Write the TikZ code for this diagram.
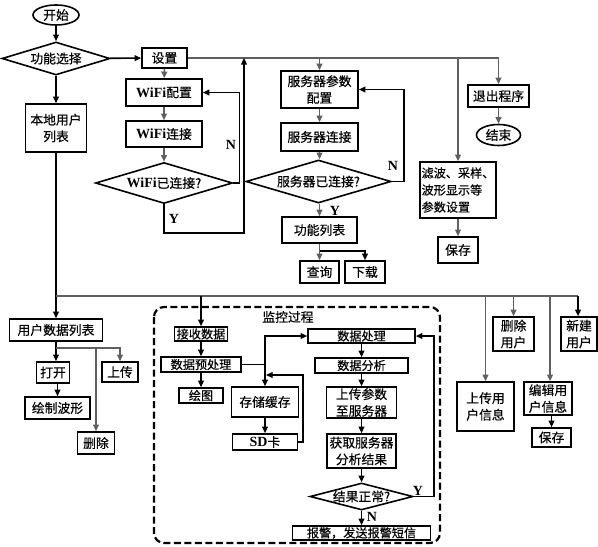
\documentclass[tikz,border=0pt]{standalone}
\usepackage{fontspec}
\setmainfont{Noto Sans CJK SC}[FakeBold=0.4]
\newfontfamily\lat{Liberation Serif}
\usetikzlibrary{shapes.geometric,arrows.meta}
\newlength\px \setlength\px{0.75pt}
\definecolor{lg}{RGB}{95,95,95}
\tikzset{
 txt/.style={inner sep=0pt, align=center, font=\fontsize{9.6}{12.5}\selectfont},
 bx/.style={txt, draw, line width=1.6\px},
 dia/.style={draw, diamond, line width=1.6\px, inner sep=0pt},
 el/.style={txt, draw, ellipse, line width=1.6\px},
 ar/.style={-{Triangle[length=5pt,width=4.4pt]}, line width=1.6\px},
 gar/.style={ar, draw=lg},
 gl/.style={line width=1.4\px, draw=lg},
 bl/.style={line width=1.6\px},
 lab/.style={inner sep=0pt, font=\lat\bfseries\fontsize{10.5}{11}\selectfont},
 small/.style={font=\fontsize{9.1}{12.5}\selectfont},
 monbox/.style={line width=2.2\px, dash pattern=on 7\px off 3.5\px, rounded corners=10\px},
 wz/.style 2 args={minimum width=#1\px, minimum height=#2\px}
}
\newcommand{\lw}[1]{{\lat\bfseries\fontsize{10.5}{12.5}\selectfont #1}}
\begin{document}
\begin{tikzpicture}[x=0.75pt,y=-0.75pt]
\useasboundingbox (0,0) rectangle (598,546);
% top-left
\node[el,wz={46}{20}] (start) at (56,15) {开始};
\node[dia,wz={108}{33}] (fs) at (56,58.5) {};
\node[txt] at (fs) {功能选择};
\node[bx,wz={45}{20}] (set) at (164.5,58) {设置};
\node[bx,wz={76}{27}] (wcfg) at (164,92.5) {\lw{WiFi}配置};
\node[bx,wz={76}{26}] (wcon) at (164,134) {\lw{WiFi}连接};
\node[dia,wz={137}{41}] (wd) at (164,183) {};
\node[txt] at (wd) {\lw{WiFi}已连接?};
\node[bx,wz={61}{48}] (local) at (56,128) {本地用户\\列表};
% server
\node[bx,wz={77}{37}] (srvcfg) at (319.5,89.5) {服务器参数\\配置};
\node[bx,wz={77}{28}] (srvcon) at (319.5,137) {服务器连接};
\node[dia,wz={145}{43}] (sd) at (318.5,181.5) {};
\node[txt] at (sd) {服务器已连接?};
\node[bx,wz={75}{26}] (flist) at (319.5,230) {功能列表};
\node[bx,wz={39}{22}] (query) at (319.5,272) {查询};
\node[bx,wz={40}{22}] (dl) at (365,272) {下载};
% right top
\node[bx,wz={61}{22}] (quit) at (498.5,96) {退出程序};
\node[el,wz={44}{21}] (end) at (498.5,135) {结束};
\node[bx,small,wz={76}{56},align=left,font=\fontsize{9.1}{12.8}\selectfont] (filt) at (458,190) {滤波、采样、\\波形显示等\\参数设置};
\node[bx,wz={40}{26}] (save1) at (458,250) {保存};
% bottom left
\node[bx,wz={93}{22}] (udl) at (56,330) {用户数据列表};
\node[bx,wz={33}{21}] (open) at (53,372.5) {打开};
\node[bx,wz={65}{22}] (drw) at (57.5,408) {绘制波形};
\node[bx,wz={36}{20}] (up) at (120,372) {上传};
\node[bx,wz={37}{22}] (del) at (96,443) {删除};
% monitoring
\draw[monbox] (154,307) rectangle (440,543);
\node[txt] (montitle) at (288,317) {监控过程};
\node[bx,small,wz={53}{14}] (recv) at (201,334) {接收数据};
\node[bx,small,wz={80}{15}] (pre) at (201,364.5) {数据预处理};
\node[bx,small,wz={44}{15}] (pic) at (201,395.5) {绘图};
\node[bx,wz={67}{30}] (store) at (265,402) {存储缓存};
\node[bx,wz={65}{16}] (sdc) at (265,442) {\lw{SD}卡};
\node[bx,small,wz={107}{14}] (dp) at (361.5,336) {数据处理};
\node[bx,small,wz={93}{15}] (da) at (361.5,365.5) {数据分析};
\node[bx,wz={70}{31}] (up2) at (361.5,402.5) {上传参数\\至服务器};
\node[bx,wz={69}{34}] (get) at (361.5,451) {获取服务器\\分析结果};
\node[dia,wz={103}{27}] (rd) at (361.5,496.5) {};
\node[txt] at (rd) {结果正常?};
\node[bx,small,wz={138}{14}] (alarm) at (361.5,533) {报警，发送报警短信};
% bottom right
\node[bx,wz={41}{34}] (delu) at (513.5,334) {删除\\用户};
\node[bx,wz={36}{34}] (newu) at (579,334) {新建\\用户};
\node[bx,wz={57}{49}] (upu) at (485.5,406.5) {上传用\\户信息};
\node[bx,wz={48}{33}] (editu) at (548,398.5) {编辑用\\户信息};
\node[bx,wz={39}{19}] (save2) at (551.5,437.5) {保存};

% connectors top
\draw[ar] (start) -- (fs);
\draw[ar] (fs) -- (set);
\draw[ar] (fs) -- (local);
\coordinate (tr) at (498.5,58);
\draw[gl] (set.east) -- (tr);
\draw[gar] (tr) -- (quit);
\draw[gar] (srvcfg.north |- set.east) -- (srvcfg);
\draw[gar] (filt.north |- set.east) -- (filt);
\draw[gar] (set) -- (wcfg);
\draw[gar] (wcfg) -- (wcon);
\draw[gar] (wcon) -- (wd);
\draw[ar] (wd.east) -- ++(6,0) |- (wcfg.east);
\node[lab] (n1) at (231,145) {N};
\coordinate (wyc) at (244,233);
\coordinate (yend) at (244,58);
\draw[ar] (wd.south) |- (wyc) -- (yend);
\node[lab] (y1) at (174,219) {Y};
\draw[gar] (srvcfg) -- (srvcon);
\draw[gar] (srvcon) -- (sd.north -| srvcon.south);
\draw[ar] (sd.east) -- ++(12,0) |- (srvcfg.east);
\node[lab] (n2) at (393,166) {N};
\draw[gar] (sd.south -| flist.north) -- (flist);
\node[lab] (y2) at (335,211) {Y};
\draw[gar] (flist) -- (query);
\coordinate (fb) at (319.5,251);
\draw[ar] (fb) -| (dl);
\draw[gar] (quit) -- (end);
\draw[gar] (filt) -- (save1);
% left
\draw[ar] (local) -- (udl);
\coordinate (hl) at (56,296);
\coordinate (hr) at (578,296);
\coordinate (eb) at (550,296);
\draw[gl] (hl) -- (hr);
\draw[ar] (recv.north |- hl) -- (recv);
\draw[gar] (upu.north |- hl) -- (upu);
\draw[gar] (delu.north |- hl) -- (delu);
\draw[gar] (eb) -- (eb |- editu.north);
\draw[ar] (hr) -- (newu.north -| hr);
\draw[ar] (udl.south) -- (open.north -| udl.south);
\draw[ar] (open.south -| drw.north) -- (drw.north);
\coordinate (ub) at (56,348);
\draw[gar] (ub) -| (up);
\draw[gar] (del.north |- ub) -- (del);
% monitoring
\draw[ar] (recv) -- (pre);
\draw[ar] (pre) -- (pic);
\coordinate (pj) at (265,364.5);
\draw[bl] (pre.east) -- (pj);
\draw[ar] (pj) |- (dp.west);
\draw[ar] (pj) -- (store.north);
\draw[ar] (store) -- (sdc);
\coordinate (sk) at (303,375);
\coordinate (sj) at (266,375);
\draw[ar, line width=1.3\px] (sdc.east) -| (sk) -- (sj);
\draw[ar] (dp) -- (da);
\draw[ar] (da) -- (up2);
\draw[ar] (up2) -- (get);
\draw[ar] (get) -- (rd);
\draw[ar] (rd) -- (alarm);
\node[lab] (n3) at (372,517) {N};
\draw[ar] (rd.east) -- ++(20,0) |- (dp.east);
\node[lab] (y3) at (418,491) {Y};
\draw[ar] (save2.north |- editu.south) -- (save2.north);
\end{tikzpicture}
\end{document}
